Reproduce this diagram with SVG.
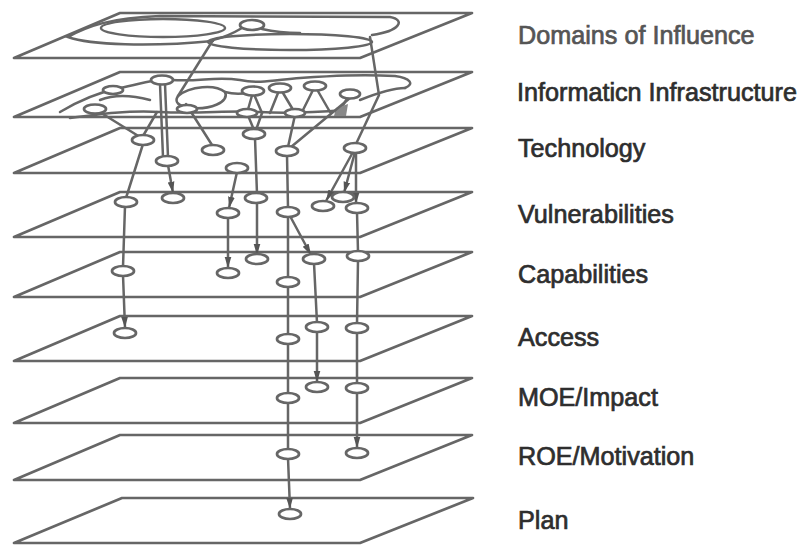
<svg xmlns="http://www.w3.org/2000/svg" width="803" height="545" viewBox="0 0 803 545">
<defs>
<style>
.pl{fill:none;stroke:#666;stroke-width:2.7;stroke-linejoin:round}
.ln{fill:none;stroke:#666;stroke-width:2.5;stroke-linecap:round}
.nd{fill:#fff;stroke:#666;stroke-width:2.7}
.lb{font-family:"Liberation Sans",Arial,sans-serif;font-size:25.2px;fill:#2e2e2e;stroke:#2e2e2e;stroke-width:0.7}
</style>
<marker id="ar" viewBox="0 0 10 10" refX="10" refY="5" markerWidth="4.5" markerHeight="4.5" orient="auto" markerUnits="strokeWidth">
<path d="M0,2 L10,5 L0,8 Z" fill="#555"/>
</marker>
</defs>
<rect width="803" height="545" fill="#fff"/>

<g id="planes">
<path class="pl" d="M120,13 L472,13 L360,58 L14,58 Z"/>
<path class="pl" d="M120,72 L472,72 L360,117 L14,117 Z"/>
<path class="pl" d="M120,128 L472,128 L360,173 L14,173 Z"/>
<path class="pl" d="M120,192 L472,192 L360,237 L14,237 Z"/>
<path class="pl" d="M120,252 L472,252 L360,297 L14,297 Z"/>
<path class="pl" d="M120,316 L472,316 L360,361 L14,361 Z"/>
<path class="pl" d="M120,378 L472,378 L360,423 L14,423 Z"/>
<path class="pl" d="M120,435 L472,435 L360,480 L14,480 Z"/>
<path class="pl" d="M122,498 L473,498 L360,543 L14,543 Z"/>
</g>

<g id="domains-shapes">
<path class="ln" d="M213,41 C150,47 90,45 68,37 C88,26 110,18 160,16 L390,17 C406,20 400,31 372,35"/>
<ellipse class="ln" cx="163" cy="28" rx="62" ry="9"/>
<ellipse class="ln" cx="290" cy="42" rx="82" ry="8"/>
<path class="ln" d="M242,28 C232,34 222,38 213,40"/>
<path class="ln" d="M262,29 C275,32 285,33 300,33"/>
</g>

<g id="infra-network">
<path class="ln" d="M60,112 C80,100 100,92 120,88 C140,84 150,80 162,80"/>
<path class="ln" d="M172,80 C200,82 215,76 240,80 C260,84 275,80 300,78 C330,76 360,74 395,76 C410,78 415,84 405,88"/>
<path class="ln" d="M70,118 C100,114 130,110 160,112 C200,114 230,110 260,112 C290,114 320,112 345,110"/>
<path class="ln" d="M178,96 C190,86 215,84 225,92 C230,102 210,110 190,108 C178,106 174,102 178,96 Z"/>
<path class="ln" d="M100,100 C115,94 135,96 150,100"/>
<path class="ln" d="M225,92 C240,96 250,92 253,92"/>
<path class="ln" d="M360,100 C380,92 395,88 405,88"/>
<path class="ln" d="M253,92 L247,113 M253,92 L262,113"/>
<path class="ln" d="M280,88 L270,113 M280,88 L295,113"/>
<path class="ln" d="M315,86 L302,112 M315,86 L330,112"/>
<path class="ln" d="M350,94 L340,110"/>
<path d="M336,108 L348,104 L346,116 L334,116 Z" fill="#888"/>
</g>

<g id="connectors">
<path class="ln" d="M213,40 L178,96"/>
<path class="ln" d="M370,37 L379,95 L356,144"/>
<path class="ln" d="M186,104 L212,145"/>
<path class="ln" d="M160,84 L163,157"/>
<path class="ln" d="M165,84 L168,157"/>
<path class="ln" d="M98,111 L140,137"/>
<path class="ln" d="M157,112 L143,136"/>
<path class="ln" d="M247,113 L254,130 M262,113 L256,130"/>
<path class="ln" d="M295,115 L288,147"/>
<path class="ln" d="M350,98 L291,147"/>
<path class="ln" d="M143,144 L126,198"/>
<path class="ln" marker-end="url(#ar)" d="M168,165 L173,193"/>
<path class="ln" marker-end="url(#ar)" d="M237,172 L229,208"/>
<path class="ln" d="M255,138 L257,194"/>
<path class="ln" marker-end="url(#ar)" d="M257,202 L257,255"/>
<path class="ln" marker-end="url(#ar)" d="M228,217 L228,268"/>
<path class="ln" d="M287,155 L288,208"/>
<path class="ln" d="M288,216 L288,278"/>
<path class="ln" d="M288,286 L288,335"/>
<path class="ln" d="M288,343 L288,394"/>
<path class="ln" d="M288,402 L288,450"/>
<path class="ln" marker-end="url(#ar)" d="M288,458 L290,509"/>
<path class="ln" marker-end="url(#ar)" d="M290,216 L311,255"/>
<path class="ln" d="M314,263 L317,323"/>
<path class="ln" marker-end="url(#ar)" d="M317,331 L317,382"/>
<path class="ln" marker-end="url(#ar)" d="M353,152 L326,201"/>
<path class="ln" marker-end="url(#ar)" d="M355,152 L344,193"/>
<path class="ln" marker-end="url(#ar)" d="M356,152 L356,204"/>
<path class="ln" d="M357,212 L358,252"/>
<path class="ln" d="M358,260 L357,324"/>
<path class="ln" d="M357,332 L357,384"/>
<path class="ln" marker-end="url(#ar)" d="M357,392 L357,448"/>
<path class="ln" d="M125,206 L123,267"/>
<path class="ln" marker-end="url(#ar)" d="M123,275 L125,328"/>
</g>

<g id="n-domains"><ellipse class="nd" cx="252" cy="25" rx="12" ry="5"/></g>
<g id="n-infra">
<ellipse class="nd" cx="162" cy="80" rx="11" ry="4.5"/>
<ellipse class="nd" cx="95" cy="109" rx="11" ry="4.5"/>
<ellipse class="nd" cx="113" cy="90" rx="10" ry="4"/>
<ellipse class="nd" cx="253" cy="91" rx="11" ry="4.5"/>
<ellipse class="nd" cx="280" cy="88" rx="11" ry="4.5"/>
<ellipse class="nd" cx="315" cy="86" rx="11" ry="4.5"/>
<ellipse class="nd" cx="350" cy="94" rx="10" ry="4.5"/>
<ellipse class="nd" cx="187" cy="109" rx="10" ry="4"/>
<ellipse class="nd" cx="247" cy="113" rx="10" ry="4"/>
<ellipse class="nd" cx="295" cy="113" rx="10" ry="4"/>
</g>
<g id="n-tech">
<ellipse class="nd" cx="143" cy="140" rx="11" ry="5"/>
<ellipse class="nd" cx="213" cy="150" rx="11" ry="5"/>
<ellipse class="nd" cx="254" cy="134" rx="11" ry="5"/>
<ellipse class="nd" cx="287" cy="151" rx="11" ry="5"/>
<ellipse class="nd" cx="355" cy="148" rx="11" ry="5"/>
<ellipse class="nd" cx="167" cy="161" rx="11" ry="5"/>
<ellipse class="nd" cx="237" cy="168" rx="11" ry="5"/>
</g>
<g id="n-vuln">
<ellipse class="nd" cx="126" cy="202" rx="11" ry="5"/>
<ellipse class="nd" cx="173" cy="198" rx="11" ry="5"/>
<ellipse class="nd" cx="228" cy="213" rx="11" ry="5"/>
<ellipse class="nd" cx="256" cy="198" rx="11" ry="5"/>
<ellipse class="nd" cx="288" cy="212" rx="11" ry="5"/>
<ellipse class="nd" cx="323" cy="206" rx="11" ry="5"/>
<ellipse class="nd" cx="343" cy="197" rx="11" ry="5"/>
<ellipse class="nd" cx="357" cy="208" rx="11" ry="5"/>
</g>
<g id="n-cap">
<ellipse class="nd" cx="123" cy="271" rx="11" ry="5"/>
<ellipse class="nd" cx="228" cy="273" rx="11" ry="5"/>
<ellipse class="nd" cx="257" cy="259" rx="11" ry="5"/>
<ellipse class="nd" cx="288" cy="282" rx="11" ry="5"/>
<ellipse class="nd" cx="314" cy="259" rx="11" ry="5"/>
<ellipse class="nd" cx="358" cy="256" rx="11" ry="5"/>
</g>
<g id="n-access">
<ellipse class="nd" cx="125" cy="333" rx="11" ry="5"/>
<ellipse class="nd" cx="288" cy="339" rx="11" ry="5"/>
<ellipse class="nd" cx="317" cy="327" rx="11" ry="5"/>
<ellipse class="nd" cx="357" cy="328" rx="11" ry="5"/>
</g>
<g id="n-moe">
<ellipse class="nd" cx="317" cy="387" rx="11" ry="5"/>
<ellipse class="nd" cx="357" cy="388" rx="11" ry="5"/>
<ellipse class="nd" cx="288" cy="398" rx="11" ry="5"/>
</g>
<g id="n-roe">
<ellipse class="nd" cx="288" cy="454" rx="11" ry="5"/>
<ellipse class="nd" cx="357" cy="453" rx="11" ry="5"/>
</g>
<g id="n-plan">
<ellipse class="nd" cx="290" cy="514" rx="11" ry="5"/>
</g>

<g id="labels">
<text class="lb" x="518" y="44" style="fill:#555;stroke:#555">Domains of Influence</text>
<text class="lb" x="517" y="101">Informaticn Infrastructure</text>
<text class="lb" x="518" y="157">Technology</text>
<text class="lb" x="518" y="223">Vulnerabilities</text>
<text class="lb" x="518" y="283">Capabilities</text>
<text class="lb" x="518" y="346">Access</text>
<text class="lb" x="518" y="406">MOE/Impact</text>
<text class="lb" x="518" y="465">ROE/Motivation</text>
<text class="lb" x="518" y="529">Plan</text>
</g>
</svg>
